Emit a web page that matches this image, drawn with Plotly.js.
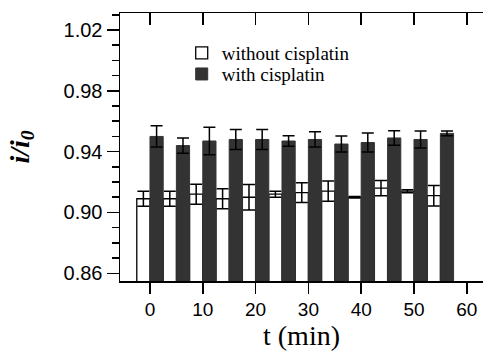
<!DOCTYPE html>
<html>
<head>
<meta charset="utf-8">
<script src="https://cdn.plot.ly/plotly-3.0.1.min.js"></script>
<style>html,body{margin:0;padding:0;background:#fff;}#chart{width:483px;height:352px;}</style>
</head>
<body>
<div id="chart"></div>
<script>
const times = [0, 5, 10, 15, 20, 25, 30, 35, 40, 45, 50, 55];
const withoutCisplatin = [0.909, 0.909, 0.912, 0.909, 0.910, 0.912, 0.913, 0.914, 0.910, 0.916, 0.914, 0.911];
const withoutErr = [0.005, 0.005, 0.0066, 0.0066, 0.0084, 0.002, 0.0065, 0.0067, 0.0005, 0.005, 0.001, 0.0067];
const withCisplatin = [0.950, 0.944, 0.947, 0.948, 0.948, 0.947, 0.948, 0.945, 0.946, 0.949, 0.948, 0.952];
const withErr = [0.007, 0.005, 0.009, 0.0066, 0.0066, 0.0035, 0.005, 0.0053, 0.0063, 0.0048, 0.0056, 0.0015];
const seriesNames = ['without cisplatin', 'with cisplatin'];
const yTickVals = [0.86, 0.90, 0.94, 0.98, 1.02];
const xTickVals = [0, 10, 20, 30, 40, 50, 60];

const serif = 'Liberation Serif, Times New Roman, serif';
const sans = 'Liberation Sans, Arial, sans-serif';
const barWidth = 2.5;

const traces = [
  {
    type: 'bar', name: seriesNames[0], x: times, y: withoutCisplatin,
    xaxis: 'x', yaxis: 'y', width: barWidth, offset: -barWidth, legend: 'legend',
    marker: {color: '#ffffff', line: {color: '#000000', width: 1.3}},
    error_y: {type: 'data', array: withoutErr, visible: true, color: '#000000', thickness: 1.5, width: 6}
  },
  {
    type: 'bar', name: seriesNames[1], x: times, y: withCisplatin,
    xaxis: 'x2', yaxis: 'y', width: barWidth, offset: 0, legend: 'legend2',
    marker: {color: '#333333', line: {color: '#333333', width: 1}},
    error_y: {type: 'data', array: withErr, visible: true, color: '#000000', thickness: 1.5, width: 6}
  }
];

const legendBase = {
  x: 0.17, xanchor: 'left', yanchor: 'middle',
  font: {family: serif, size: 19, color: '#000'},
  bgcolor: 'rgba(0,0,0,0)', itemwidth: 30
};

const layout = {
  width: 483, height: 352,
  margin: {l: 120, r: 0, t: 13, b: 71},
  paper_bgcolor: '#ffffff', plot_bgcolor: '#ffffff',
  barmode: 'overlay',
  showlegend: true,
  legend: Object.assign({}, legendBase, {y: 0.851}),
  legend2: Object.assign({}, legendBase, {y: 0.772}),
  xaxis: {
    range: [-5.68, 63.07], tickvals: xTickVals, ticktext: xTickVals.map(String),
    ticks: 'outside', ticklen: 11, tickwidth: 1.5, tickcolor: '#000',
    showline: true, linecolor: '#000', linewidth: 1.5, showgrid: false, zeroline: false,
    tickfont: {family: sans, size: 19, color: '#000'},
    title: {text: 't (min)', font: {family: serif, size: 28, color: '#000'}, standoff: 0},
    automargin: false
  },
  xaxis2: {
    overlaying: 'x', side: 'top', anchor: 'y', matches: 'x',
    range: [-5.68, 63.07], tickvals: xTickVals, showticklabels: false,
    ticks: 'inside', ticklen: 12, tickwidth: 1.5, tickcolor: '#000',
    showline: true, linecolor: '#000', linewidth: 1.5, showgrid: false, zeroline: false
  },
  yaxis: {
    range: [0.8549, 1.0312], tickvals: yTickVals, ticktext: yTickVals.map(v => v.toFixed(2)),
    ticks: 'outside', ticklen: 12, tickwidth: 1.5, tickcolor: '#000',
    minor: {dtick: 0.01, tick0: 0.86, ticks: 'outside', ticklen: 7, tickwidth: 1.5, tickcolor: '#000', showgrid: false},
    showline: true, linecolor: '#000', linewidth: 1.5, showgrid: false, zeroline: false,
    tickfont: {family: sans, size: 20, color: '#000'},
    title: {text: 'i/i<sub>0</sub>', font: {family: serif, size: 28, color: '#000', style: 'italic', weight: 'bold'}, standoff: 26},
    automargin: false
  }
};

Plotly.newPlot('chart', traces, layout, {staticPlot: true, displayModeBar: false});
</script>
</body>
</html>
